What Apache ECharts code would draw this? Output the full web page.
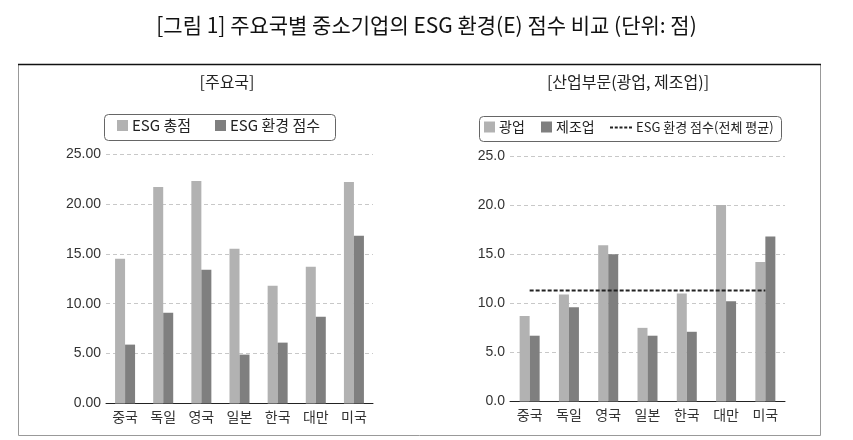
<!DOCTYPE html>
<html><head><meta charset="utf-8">
<script src="https://cdn.jsdelivr.net/npm/echarts@6/dist/echarts.min.js"></script>
<style>html,body{margin:0;padding:0;background:#fff}#c{width:853px;height:440px}</style>
</head><body><div id="c"></div>
<script>
var categories = ['중국','독일','영국','일본','한국','대만','미국'];
var esgTotal = [14.5, 21.7, 22.3, 15.5, 11.8, 13.7, 22.2];
var esgEnv = [5.9, 9.1, 13.4, 4.9, 6.1, 8.7, 16.8];
var mining = [8.7, 10.9, 15.9, 7.5, 11.0, 20.0, 14.2];
var manufacturing = [6.7, 9.6, 15.0, 6.7, 7.1, 10.2, 16.8];
var overallAvg = [11.3, 11.3, 11.3, 11.3, 11.3, 11.3, 11.3];
var leftTicks = {min: 0, max: 25, interval: 5, decimals: 2};
var rightTicks = {min: 0, max: 25, interval: 5, decimals: 1};

var FONT = '"Noto Sans CJK KR", "Liberation Sans", sans-serif';
var LIGHT = '#b2b2b2', DARK = '#7f7f7f';
var chart = echarts.init(document.getElementById('c'));

function yAxis(idx, t){
  return {gridIndex: idx, type:'value', min:t.min, max:t.max, interval:t.interval,
    axisLine:{show:false}, axisTick:{show:false},
    axisLabel:{color:'#333', fontSize:14, fontFamily:'"Liberation Sans", Arial, sans-serif', margin:5,
      formatter:function(v){return v.toFixed(t.decimals);}},
    splitLine:{lineStyle:{color:'#c8c8c8', type:[4,3], width:1}}};
}
function xAxis(idx){
  return {gridIndex: idx, type:'category', data:categories,
    axisLine:{lineStyle:{color:'#222', width:1}},
    axisTick:{inside:true, length:5, lineStyle:{color:'#222'}},
    axisLabel:{color:'#333', fontSize:14, fontFamily:FONT, margin:6}};
}
function leg(name, left, top, size, extra){
  var o = {data:[name], left:left, top:top, itemWidth:11, itemHeight:11, icon:'rect', padding:0,
    textStyle:{fontFamily:FONT, fontSize:size, color:'#222', padding:[0,0,0,-1]}};
  if (extra) for (var k in extra) o[k] = extra[k];
  return o;
}
var dashIcon = 'path://M0,0h3v2h-3zM4.75,0h3v2h-3zM9.5,0h3v2h-3zM14.25,0h3v2h-3zM19,0h3v2h-3z';
chart.setOption({
  animation:false,
  title:[
    {text:'[그림 1] 주요국별 중소기업의 ESG 환경(E) 점수 비교 (단위: 점)', left:'center', top:10,
     textStyle:{fontFamily:FONT, fontSize:21, fontWeight:'normal', color:'#111'}},
    {text:'[주요국]', left:222, textAlign:'center', top:69,
     textStyle:{fontFamily:FONT, fontSize:16, fontWeight:'normal', color:'#222'}},
    {text:'[산업부문(광업, 제조업)]', left:623, textAlign:'center', top:69,
     textStyle:{fontFamily:FONT, fontSize:16, fontWeight:'normal', color:'#222'}}
  ],
  graphic:[
    {type:'rect', shape:{x:18.5, y:64.5, width:802, height:371}, style:{fill:'none', stroke:'#999', lineWidth:1}, silent:true},
    {type:'line', shape:{x1:18, y1:64.5, x2:821, y2:64.5}, style:{stroke:'#111', lineWidth:1.5}, silent:true},
    {type:'rect', shape:{x:104.5, y:114.5, width:231, height:26, r:4}, style:{fill:'none', stroke:'#666', lineWidth:1}, silent:true},
    {type:'rect', shape:{x:479.5, y:116.5, width:302, height:25, r:4}, style:{fill:'none', stroke:'#666', lineWidth:1}, silent:true}
  ],
  legend:[
    leg('ESG 총점', 117, 118, 15),
    leg('ESG 환경 점수', 215, 118, 15),
    leg('광업', 484, 120, 14),
    leg('제조업', 541, 120, 14),
    leg('ESG 환경 점수(전체 평균)', 610, 121, 13, {icon: dashIcon, itemWidth:22, itemHeight:2, itemStyle:{color:'#222', borderWidth:0}})
  ],
  grid:[
    {left:106, right:480, top:154, bottom:36.5},
    {left:510, right:68, top:156, bottom:38.5}
  ],
  xAxis:[xAxis(0), xAxis(1)],
  yAxis:[yAxis(0, leftTicks), yAxis(1, rightTicks)],
  series:[
    {name:'ESG 총점', type:'bar', xAxisIndex:0, yAxisIndex:0, data:esgTotal, barWidth:10, barGap:'0%', itemStyle:{color:LIGHT}},
    {name:'ESG 환경 점수', type:'bar', xAxisIndex:0, yAxisIndex:0, data:esgEnv, barWidth:10, barGap:'0%', itemStyle:{color:DARK}},
    {name:'광업', type:'bar', xAxisIndex:1, yAxisIndex:1, data:mining, barWidth:10, barGap:'0%', itemStyle:{color:LIGHT}},
    {name:'제조업', type:'bar', xAxisIndex:1, yAxisIndex:1, data:manufacturing, barWidth:10, barGap:'0%', itemStyle:{color:DARK}},
    {name:'ESG 환경 점수(전체 평균)', type:'line', xAxisIndex:1, yAxisIndex:1, data:overallAvg, symbol:'none',
     lineStyle:{color:'#222', width:2, type:[4,2]}, itemStyle:{color:'#222'}, z:5}
  ]
});
</script></body></html>
